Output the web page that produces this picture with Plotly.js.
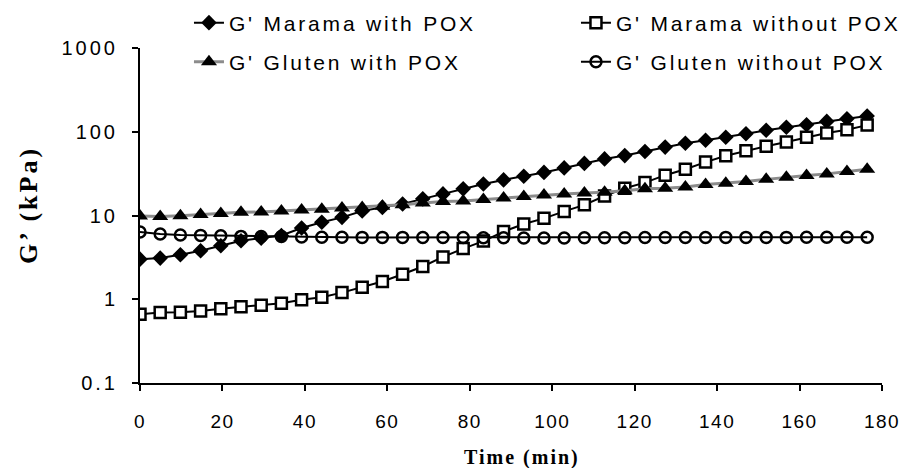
<!DOCTYPE html>
<html>
<head>
<meta charset="utf-8">
<script src="https://cdn.plot.ly/plotly-3.0.1.min.js"></script>
<style>
html,body{margin:0;padding:0;background:#fff;}
#chart{width:901px;height:468px;}
#chart .ytick text { letter-spacing: 3px !important; }
#chart .xtick text { letter-spacing: 1.5px !important; }
#chart .legendtext, #chart .infolayer g[class*="legend"] text { letter-spacing: 2.8px !important; }
#chart g.annotation[data-index="0"] text { letter-spacing: 2px !important; }
#chart g.annotation[data-index="1"] text { letter-spacing: 3px !important; }
</style>
</head>
<body>
<div id="chart"></div>
<script>
const timeMin = [0, 4.9, 9.8, 14.7, 19.6, 24.5, 29.4, 34.3, 39.2, 44.1, 49, 53.9, 58.8, 63.7, 68.6, 73.5, 78.4, 83.3, 88.2, 93.1, 98, 102.9, 107.8, 112.7, 117.6, 122.5, 127.4, 132.3, 137.2, 142.1, 147, 151.9, 156.8, 161.7, 166.6, 171.5, 176.4];

const maramaWithPOX = [3.01, 3.10, 3.4, 3.79, 4.35, 4.99, 5.37, 5.76, 7.08, 8.3, 9.5, 11.3, 12.5, 13.7, 15.8, 18.1, 20.8, 23.8, 26.6, 29.4, 32.7, 37.0, 41.9, 47.4, 51.9, 58.2, 65.6, 72.8, 79.2, 86.1, 94.5, 104, 113, 121, 133, 143, 154];

const maramaWithoutPOX = [0.661, 0.693, 0.70, 0.724, 0.769, 0.813, 0.848, 0.896, 0.986, 1.057, 1.20, 1.39, 1.63, 1.99, 2.46, 3.20, 4.03, 4.95, 6.43, 7.91, 9.25, 11.2, 13.4, 17.1, 21.2, 24.7, 30.3, 35.7, 43.4, 51.6, 59.2, 67.0, 75.3, 85.7, 96.5, 105.6, 120];

const glutenWithPOX = [9.86, 9.73, 9.95, 10.3, 10.6, 10.9, 11.0, 11.3, 11.6, 11.9, 12.3, 12.5, 12.9, 13.4, 14.1, 14.7, 14.9, 15.5, 16.2, 16.9, 17.6, 18.1, 18.6, 18.9, 19.8, 20.8, 21.2, 21.9, 23.5, 24.3, 25.4, 27.0, 28.7, 30.0, 31.4, 33.6, 35.6];

const glutenWithoutPOX = [6.34, 6.0, 5.84, 5.79, 5.73, 5.63, 5.61, 5.61, 5.55, 5.5, 5.5, 5.48, 5.48, 5.48, 5.45, 5.45, 5.45, 5.42, 5.42, 5.4, 5.4, 5.4, 5.42, 5.42, 5.42, 5.45, 5.45, 5.45, 5.45, 5.48, 5.48, 5.48, 5.48, 5.5, 5.5, 5.5, 5.5];

const seriesNames = ["G' Marama with POX", "G' Marama without POX", "G' Gluten with POX", "G' Gluten without POX"];
const yTickVals = [0.1, 1, 10, 100, 1000];
const yTickText = ["0.1", "1", "10", "100", "1000"];
const xTitle = 'Time (min)';
const yTitle = 'G’ (kPa)';

const txtFont = "Liberation Sans, Arial, sans-serif";
const serifFont = "Liberation Serif, Times New Roman, serif";

const traces = [
  {
    x: timeMin, y: maramaWithPOX, name: seriesNames[0], mode: 'lines+markers',
    line: {color: '#000', width: 2},
    marker: {symbol: 'diamond', size: 12, color: '#000', line: {width: 0}},
    legend: 'legend', legendwidth: 342
  },
  {
    x: timeMin, y: maramaWithoutPOX, name: seriesNames[1], mode: 'lines+markers',
    line: {color: '#000', width: 2},
    marker: {symbol: 'square', size: 11, color: '#fff', line: {color: '#000', width: 2.5}},
    legend: 'legend', legendwidth: 305
  },
  {
    x: timeMin, y: glutenWithPOX, name: seriesNames[2], mode: 'lines+markers',
    line: {color: '#8c8c8c', width: 3},
    marker: {symbol: 'triangle-up', size: 14, color: '#000', line: {width: 0}},
    legend: 'legend2', legendwidth: 342
  },
  {
    x: timeMin, y: glutenWithoutPOX, name: seriesNames[3], mode: 'lines+markers',
    line: {color: '#000', width: 2},
    marker: {symbol: 'circle-open', size: 11, color: '#000', line: {color: '#000', width: 2.5}},
    legend: 'legend2', legendwidth: 305
  }
];

const legendCommon = {
  orientation: 'h', xanchor: 'left', yanchor: 'middle',
  entrywidthmode: 'pixels',
  font: {family: txtFont, size: 21, color: '#000'},
  bgcolor: 'rgba(0,0,0,0)', borderwidth: 0, tracegroupgap: 0
};

const layout = {
  width: 901, height: 468,
  margin: {l: 140, r: 19, t: 48, b: 85, autoexpand: false},
  paper_bgcolor: '#fff', plot_bgcolor: '#fff',
  showlegend: true,
  legend: Object.assign({}, legendCommon, {x: 0.066, y: 1.0746}),
  legend2: Object.assign({}, legendCommon, {x: 0.066, y: 0.958}),
  xaxis: {
    range: [0, 180], dtick: 20, tick0: 0,
    showgrid: false, zeroline: false,
    showline: true, linecolor: '#000', linewidth: 2,
    ticks: 'outside', ticklen: 6, tickwidth: 2, tickcolor: '#000',
    tickfont: {family: txtFont, size: 19, color: '#000'},
    ticklabelstandoff: 14
  },
  yaxis: {
    type: 'log', range: [-1, 3],
    tickvals: yTickVals, ticktext: yTickText,
    showgrid: false, zeroline: false,
    showline: true, linecolor: '#000', linewidth: 2,
    ticks: 'outside', ticklen: 6, tickwidth: 2, tickcolor: '#000',
    tickfont: {family: txtFont, size: 20, color: '#000'},
    ticklabelstandoff: 10
  },
  annotations: [
    {text: xTitle, xref: 'paper', yref: 'paper', x: 0.515, y: -0.221, xanchor: 'center', yanchor: 'middle',
     showarrow: false, font: {family: serifFont, size: 20, color: '#000', weight: 'bold'}},
    {text: yTitle, xref: 'paper', yref: 'paper', x: -0.151, y: 0.531, xanchor: 'center', yanchor: 'middle',
     textangle: -90, showarrow: false, font: {family: serifFont, size: 26, color: '#000', weight: 'bold'}}
  ]
};

Plotly.newPlot('chart', traces, layout, {displayModeBar: false, staticPlot: true});
</script>
</body>
</html>
